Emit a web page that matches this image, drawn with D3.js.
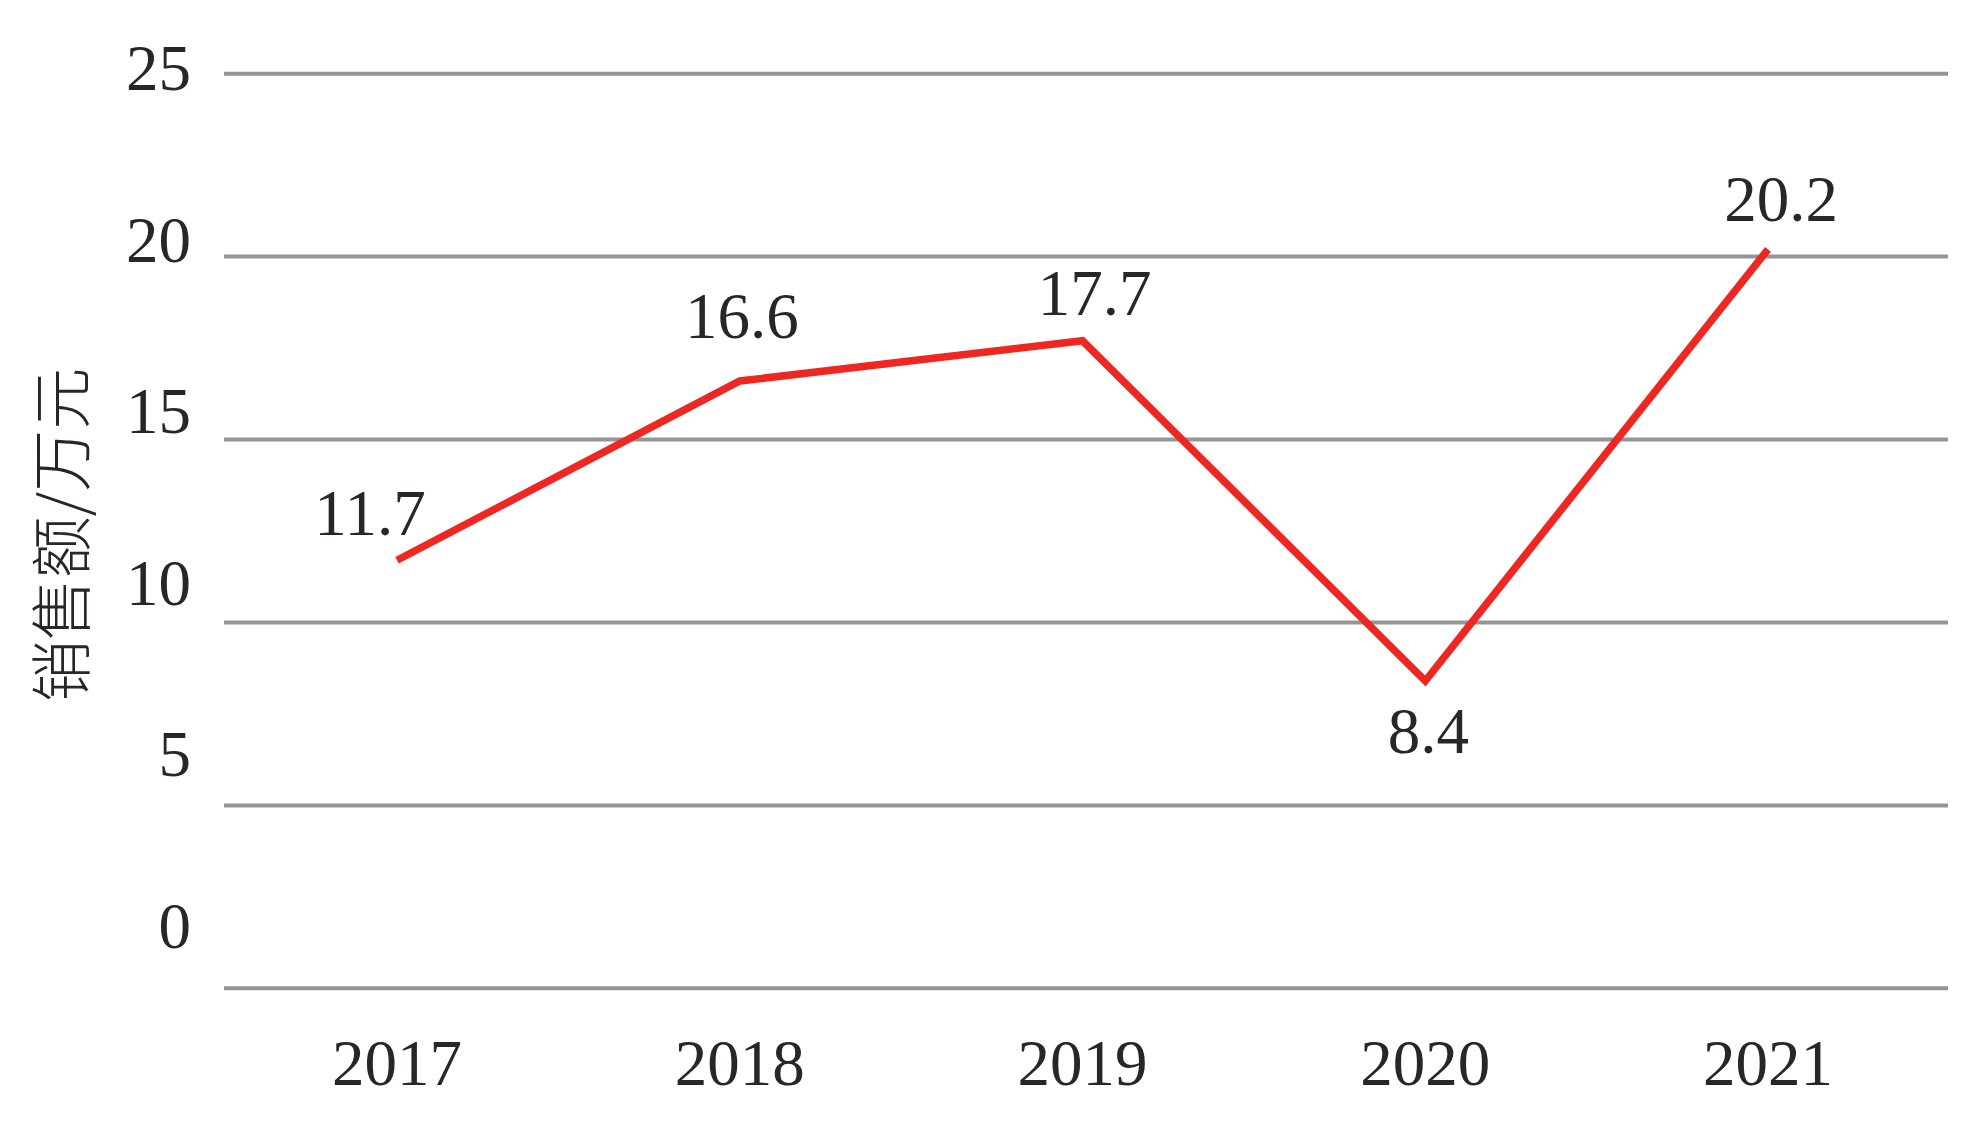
<!DOCTYPE html>
<html>
<head>
<meta charset="utf-8">
<script src="https://cdn.jsdelivr.net/npm/d3@7"></script>
<style>
  html, body { margin: 0; padding: 0; background: #fff; }
  svg { display: block; }
</style>
</head>
<body>
<svg id="chart" width="1985" height="1123"></svg>
<script>
const years = ["2017", "2018", "2019", "2020", "2021"];
const sales = [11.7, 16.6, 17.7, 8.4, 20.2];
const yTicks = [0, 5, 10, 15, 20, 25];
const yTitle = "销售额/万元";

const svg = d3.select("#chart");
const gridLeft = 224, gridRight = 1948;

const x = d3.scalePoint().domain(years).range([397, 1768]);
const y = d3.scaleLinear().domain([0, 25]).range([988.3, 73.7]);
// tick labels in the reference sit on their own (slightly compressed) spacing
const yLab = d3.scaleLinear().domain([0, 25]).range([948, 90]);

const numFont = "'Liberation Serif', 'DejaVu Serif', serif";
const textColor = "#2a2627";

// gridlines
svg.append("g")
  .selectAll("line")
  .data(yTicks)
  .join("line")
  .attr("x1", gridLeft).attr("x2", gridRight)
  .attr("y1", d => y(d)).attr("y2", d => y(d))
  .attr("stroke", "#959595")
  .attr("stroke-width", 4);

// y tick labels
svg.append("g")
  .selectAll("text")
  .data(yTicks)
  .join("text")
  .attr("x", 191)
  .attr("y", d => yLab(d))
  .attr("text-anchor", "end")
  .attr("font-family", numFont)
  .attr("font-size", 65)
  .attr("fill", textColor)
  .text(d => d);

// x labels
svg.append("g")
  .selectAll("text")
  .data(years)
  .join("text")
  .attr("x", d => x(d))
  .attr("y", 1085)
  .attr("text-anchor", "middle")
  .attr("font-family", numFont)
  .attr("font-size", 65)
  .attr("fill", textColor)
  .text(d => d);

// y title
svg.append("text")
  .attr("transform", "translate(85,535) rotate(-90)")
  .attr("text-anchor", "middle")
  .attr("font-family", "'Noto Sans CJK SC', sans-serif")
  .attr("font-weight", 300)
  .attr("font-size", 62)
  .attr("fill", textColor)
  .text(yTitle);

// line
const pts = years.map((yr, i) => ({ yr, v: sales[i] }));
const line = d3.line().x(d => x(d.yr)).y(d => y(d.v));
svg.append("path")
  .datum(pts)
  .attr("d", line)
  .attr("fill", "none")
  .attr("stroke", "#ee2722")
  .attr("stroke-width", 7.5)
  .attr("stroke-linejoin", "miter")
  .attr("stroke-linecap", "butt");

// data labels (placement offsets as in the reference)
const labelDx = [-27, 2, 12, 3, 13];
const labelDy = [-25, -43, -26, 72, -28];
svg.append("g")
  .selectAll("text")
  .data(pts)
  .join("text")
  .attr("x", (d, i) => x(d.yr) + labelDx[i])
  .attr("y", (d, i) => y(d.v) + labelDy[i])
  .attr("text-anchor", "middle")
  .attr("font-family", numFont)
  .attr("font-size", 65)
  .attr("fill", textColor)
  .text(d => d.v.toFixed(1));
</script>
</body>
</html>
